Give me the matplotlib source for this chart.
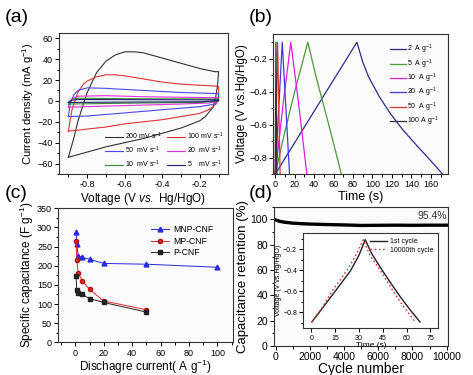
import numpy as np
import matplotlib
matplotlib.use("Agg")
import matplotlib.pyplot as plt
from matplotlib.ticker import MultipleLocator

plt.rcParams["font.family"] = ["Liberation Sans", "DejaVu Sans"]
plt.rcParams["mathtext.fontset"] = "custom"
plt.rcParams["mathtext.rm"] = "Liberation Sans"
plt.rcParams["mathtext.it"] = "Liberation Sans:italic"

# ---------- (a) CV loops: voltage (V) and current density (mA/g) ----------
cv_labels = ["200 mV s$^{-1}$", "100 mV s$^{-1}$", "50  mV s$^{-1}$",
             "20  mV s$^{-1}$", "10  mV s$^{-1}$", "5    mV s$^{-1}$"]
cv_colors = ["#333333", "#e03535", "#4a4ae8", "#e030e0", "#3a8a3a", "#22226e"]

cv200_v = [-0.9, -0.87, -0.85, -0.82, -0.8, -0.75, -0.7, -0.65, -0.6, -0.55, -0.5, -0.4,
           -0.3, -0.2, -0.12, -0.1, -0.105, -0.115, -0.13, -0.17, -0.2, -0.3, -0.4,
           -0.5, -0.6, -0.7, -0.8, -0.9]
cv200_i = [-54, -35, -20, -3, 8, 27, 38, 44, 47, 47, 46, 41, 36, 31, 28, 28, 16, 4,
           -6, -15, -19, -26, -31, -36, -40, -44, -49, -54]

cv100_v = [-0.9, -0.89, -0.88, -0.85, -0.82, -0.8, -0.75, -0.7, -0.65, -0.6, -0.5, -0.4,
           -0.3, -0.2, -0.1, -0.1, -0.11, -0.13, -0.16, -0.2, -0.3, -0.4, -0.5, -0.6,
           -0.7, -0.8, -0.9]
cv100_i = [-29, -18, -8, 8, 16, 19, 23, 25, 25, 24, 21, 18, 16, 15, 14, 6, -2, -6, -9,
           -12, -15, -18, -20, -22, -25, -27, -29]

cv50_v = [-0.9, -0.89, -0.87, -0.85, -0.8, -0.7, -0.6, -0.5, -0.4, -0.3, -0.2, -0.1,
          -0.1, -0.12, -0.2, -0.3, -0.4, -0.5, -0.6, -0.7, -0.8, -0.9]
cv50_i = [-15, -2, 6, 10, 12.5, 12, 11, 10, 9, 8, 7.5, 7, 2, -3, -5.5, -7, -8.5, -10,
          -11.5, -13, -14.5, -15]

cv20_v = [-0.9, -0.89, -0.88, -0.85, -0.7, -0.5, -0.3, -0.1, -0.1, -0.15, -0.3, -0.5,
          -0.7, -0.9]
cv20_i = [-6, -1, 2, 4.5, 5, 4, 3.5, 3, 0, -2, -3, -4, -5, -6]

cv10_v = [-0.9, -0.89, -0.88, -0.85, -0.5, -0.1, -0.1, -0.2, -0.5, -0.9]
cv10_i = [-3, -0.5, 1.5, 2.5, 2, 1.8, 0, -1.5, -2, -3]

cv5_v = [-0.9, -0.89, -0.88, -0.85, -0.5, -0.1, -0.1, -0.2, -0.5, -0.9]
cv5_i = [-1.5, 0, 0.8, 1.3, 1.1, 1, 0, -0.8, -1.1, -1.5]

# ---------- (b) GCD curves: time (s) and voltage (V) ----------
gcd_labels = ["2  A g$^{-1}$", "5  A g$^{-1}$", "10  A g$^{-1}$",
              "20  A g$^{-1}$", "50  A g$^{-1}$", "100 A g$^{-1}$"]
gcd_colors = ["#2d2d8c", "#4d9a3a", "#e020d8", "#3a3ae0", "#e03535", "#333333"]

gcd2_t = [0, 20, 42, 63, 84, 90, 96, 107, 118, 131, 146, 160, 172]
gcd2_v = [-0.9, -0.71, -0.5, -0.3, -0.1, -0.22, -0.31, -0.43, -0.53, -0.63, -0.73,
          -0.82, -0.9]
gcd5_t = [0, 10, 20, 33.5, 42, 55, 68]
gcd5_v = [-0.9, -0.64, -0.4, -0.1, -0.31, -0.6, -0.9]
gcd10_t = [0, 8, 16, 24, 32.5]
gcd10_v = [-0.9, -0.48, -0.1, -0.47, -0.9]
gcd20_t = [0, 7.2, 14.7]
gcd20_v = [-0.9, -0.1, -0.9]
gcd50_t = [0, 2.4, 5]
gcd50_v = [-0.9, -0.1, -0.9]
gcd100_t = [0, 0.7, 1.7]
gcd100_v = [-0.9, -0.1, -0.9]

# ---------- (c) rate capability ----------
current_mnp = [0.5, 1, 2, 5, 10, 20, 50, 100]
cap_mnp = [287, 256, 225, 222, 217, 206, 204, 196]
current_mp = [0.5, 1, 2, 5, 10, 20, 50]
cap_mp = [265, 215, 181, 160, 138, 108, 85]
current_p = [0.5, 1, 2, 5, 10, 20, 50]
cap_p = [173, 136, 130, 125, 114, 104, 79]

# ---------- (d) cycling retention ----------
cycles = [0, 250, 500, 1000, 1500, 2000, 3000, 4000, 5000, 6000, 7000, 8000, 9000, 10000]
retention = [99.5, 98.4, 97.8, 97.0, 96.6, 96.3, 95.9, 95.6, 95.2, 95.3, 95.4, 95.3,
             95.4, 95.4]

# inset: first and 10000th cycle GCD
first_t = [0.4, 7, 14, 24.5, 30, 34, 38, 43.4, 50, 56, 62, 68.5]
first_v = [-0.89, -0.76, -0.62, -0.41, -0.26, -0.11, -0.24, -0.37, -0.52, -0.65, -0.77, -0.89]
last_t = [0.4, 7, 13, 23.5, 29, 32.8, 37, 43, 50, 56, 61, 65.4]
last_v = [-0.89, -0.75, -0.60, -0.38, -0.23, -0.11, -0.26, -0.39, -0.56, -0.70, -0.80, -0.89]


def style_axis(ax, size=6.5):
    ax.tick_params(which="both", direction="out", top=False, right=False,
                   labelsize=size, width=0.7, pad=1.5)
    ax.tick_params(which="major", length=3)
    ax.tick_params(which="minor", length=1.8)
    for s in ax.spines.values():
        s.set_linewidth(0.8)
        s.set_color("#333333")
    ax.set_facecolor("#fbfbfb")


fig = plt.figure(figsize=(4.73, 3.75), dpi=100)

# (a)
ax_a = fig.add_axes([0.1247, 0.536, 0.3573, 0.376])
cv_data = [(cv200_v, cv200_i), (cv100_v, cv100_i), (cv50_v, cv50_i),
           (cv20_v, cv20_i), (cv10_v, cv10_i), (cv5_v, cv5_i)]
lines_a = []
for (v, i), c, lab in zip(cv_data, cv_colors, cv_labels):
    ln, = ax_a.plot(v, i, color=c, lw=0.8, label=lab)
    lines_a.append(ln)
ax_a.set_xlim(-0.95, -0.05)
ax_a.set_ylim(-70, 65)
ax_a.xaxis.set_minor_locator(MultipleLocator(0.1))
ax_a.yaxis.set_major_locator(MultipleLocator(20))
ax_a.yaxis.set_minor_locator(MultipleLocator(10))
ax_a.set_xticks([-0.8, -0.6, -0.4, -0.2])
ax_a.set_xticklabels(["-0.8", "-0.6", "-0.4", "-0.2"])
ax_a.set_xlabel("Voltage (V $\\it{vs.}$ Hg/HgO)", fontsize=8.5, labelpad=1)
ax_a.set_ylabel("Current density (mA g$^{-1}$)", fontsize=8, labelpad=1)
style_axis(ax_a)
order = [0, 2, 4, 1, 3, 5]
ax_a.legend([lines_a[k] for k in order], [cv_labels[k] for k in order], ncol=2,
            loc="lower right", fontsize=5, frameon=False, handlelength=2.6,
            columnspacing=0.6, labelspacing=0.35, handletextpad=0.3,
            borderaxespad=0.2)

# (b)
ax_b = fig.add_axes([0.5778, 0.536, 0.370, 0.3733])
gcd_data = [(gcd2_t, gcd2_v), (gcd5_t, gcd5_v), (gcd10_t, gcd10_v),
            (gcd20_t, gcd20_v), (gcd50_t, gcd50_v), (gcd100_t, gcd100_v)]
for (t, v), c, lab in zip(gcd_data, gcd_colors, gcd_labels):
    ax_b.plot(t, v, color=c, lw=0.9, label=lab)
ax_b.set_xlim(-2, 178)
ax_b.set_ylim(-0.9, -0.05)
ax_b.xaxis.set_major_locator(MultipleLocator(20))
ax_b.xaxis.set_minor_locator(MultipleLocator(10))
ax_b.set_yticks([-0.8, -0.6, -0.4, -0.2])
ax_b.yaxis.set_minor_locator(MultipleLocator(0.1))
ax_b.set_xlabel("Time (s)", fontsize=9, labelpad=1)
ax_b.set_ylabel("Voltage (V vs.Hg/HgO)", fontsize=8.5, labelpad=1)
style_axis(ax_b)
ax_b.legend(loc="upper right", fontsize=5, frameon=False, handlelength=2.2,
            labelspacing=0.15, handletextpad=0.2, borderaxespad=0.5,
            bbox_to_anchor=(0.98, 0.98))

# (c)
ax_c = fig.add_axes([0.1233, 0.0872, 0.3693, 0.3573])
ax_c.plot(current_mnp, cap_mnp, color="#2a2ae0", lw=0.7, marker="^", ms=3.5,
          label="MNP-CNF")
ax_c.plot(current_mp, cap_mp, color="#e02a2a", lw=0.7, marker="o", ms=3,
          markeredgecolor="#b01010", label="MP-CNF")
ax_c.plot(current_p, cap_p, color="#222222", lw=0.7, marker="s", ms=3,
          label="P-CNF")
ax_c.set_xlim(-12, 111)
ax_c.set_ylim(0, 350)
ax_c.xaxis.set_major_locator(MultipleLocator(20))
ax_c.xaxis.set_minor_locator(MultipleLocator(10))
ax_c.yaxis.set_major_locator(MultipleLocator(50))
ax_c.yaxis.set_minor_locator(MultipleLocator(25))
ax_c.set_xlabel("Dischagre current( A g$^{-1}$)", fontsize=8.5, labelpad=0)
ax_c.set_ylabel("Specific capacitance (F g$^{-1}$)", fontsize=8.5, labelpad=1)
style_axis(ax_c)
ax_c.legend(loc="upper right", fontsize=6.2, frameon=False, handlelength=2.2,
            labelspacing=0.25, handletextpad=0.4, bbox_to_anchor=(0.93, 0.93))

# (d)
ax_d = fig.add_axes([0.5793, 0.0773, 0.3685, 0.3715])
ax_d.plot(cycles, retention, color="black", lw=2.4)
ax_d.set_xlim(-100, 10100)
ax_d.set_ylim(0, 110)
ax_d.xaxis.set_major_locator(MultipleLocator(2000))
ax_d.xaxis.set_minor_locator(MultipleLocator(1000))
ax_d.yaxis.set_major_locator(MultipleLocator(20))
ax_d.yaxis.set_minor_locator(MultipleLocator(10))
ax_d.set_xlabel("Cycle number", fontsize=10, labelpad=0)
ax_d.set_ylabel("Capacitance retention (%)", fontsize=9.5, labelpad=1)
style_axis(ax_d, size=7.5)
ax_d.text(10000, 98.5, "95.4%", fontsize=7.5, ha="right", va="bottom",
          color="#333333")

# inset in (d)
ax_in = fig.add_axes([0.6412, 0.1245, 0.2854, 0.2533])
ax_in.plot(first_t, first_v, color="#222222", lw=1.0, label="1st cycle")
ax_in.plot(last_t, last_v, color="#e03030", lw=1.0, ls=(0, (1.2, 1.8)),
           label="10000th cycle")
ax_in.set_xlim(-5, 80)
ax_in.set_ylim(-0.95, -0.05)
ax_in.xaxis.set_major_locator(MultipleLocator(15))
ax_in.set_yticks([-0.8, -0.6, -0.4, -0.2])
ax_in.yaxis.set_minor_locator(MultipleLocator(0.1))
ax_in.set_xlabel("Time (s)", fontsize=6, labelpad=0)
ax_in.set_ylabel("Voltage (V vs.Hg/HgO)", fontsize=5, labelpad=1)
style_axis(ax_in, size=5)
ax_in.set_facecolor("white")
ax_in.legend(loc="upper right", fontsize=5, frameon=False, handlelength=2.5,
             labelspacing=0.2, handletextpad=0.4, borderaxespad=0.3)

# panel letters
for x, y, s in [(0.01, 0.93, "(a)"), (0.525, 0.93, "(b)"),
                (0.01, 0.46, "(c)"), (0.525, 0.46, "(d)")]:
    fig.text(x, y, s, fontsize=14, ha="left", va="bottom")

fig.savefig("out.png", dpi=100)
